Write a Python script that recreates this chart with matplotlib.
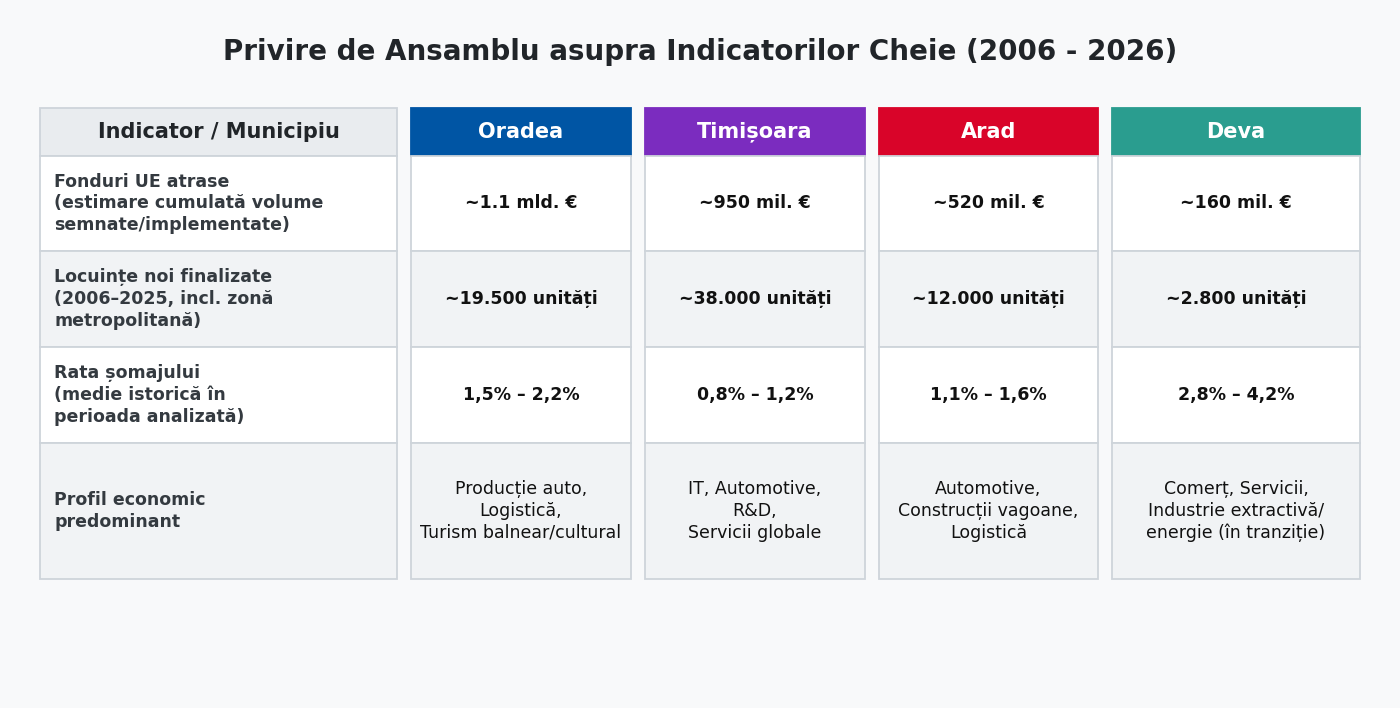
import matplotlib.pyplot as plt
from matplotlib.patches import Rectangle

plt.rcParams['font.family'] = ['DejaVu Sans']

title = "Privire de Ansamblu asupra Indicatorilor Cheie (2006 - 2026)"
corner_label = "Indicator / Municipiu"
cities = ["Oradea", "Timișoara", "Arad", "Deva"]
city_colors = ["#0055A4", "#7B2CBF", "#D90429", "#2A9D8F"]
indicators = [
    "Fonduri UE atrase\n(estimare cumulată volume\nsemnate/implementate)",
    "Locuințe noi finalizate\n(2006–2025, incl. zonă\nmetropolitană)",
    "Rata șomajului\n(medie istorică în\nperioada analizată)",
    "Profil economic\npredominant",
]
eu_funds = ["~1.1 mld. €", "~950 mil. €", "~520 mil. €", "~160 mil. €"]
housing = ["~19.500 unități", "~38.000 unități", "~12.000 unități", "~2.800 unități"]
unemployment = ["1,5% – 2,2%", "0,8% – 1,2%", "1,1% – 1,6%", "2,8% – 4,2%"]
profile = [
    "Producție auto,\nLogistică,\nTurism balnear/cultural",
    "IT, Automotive,\nR&D,\nServicii globale",
    "Automotive,\nConstrucții vagoane,\nLogistică",
    "Comerț, Servicii,\nIndustrie extractivă/\nenergie (în tranziție)",
]
values = [eu_funds, housing, unemployment, profile]

# layout in pixels
col_x = [(40, 397), (411, 631), (645, 865), (879, 1098), (1112, 1360)]
row_y = [(108, 156), (156, 251), (251, 347), (347, 443), (443, 579)]
row_fill = ["#FFFFFF", "#F1F3F5", "#FFFFFF", "#F1F3F5"]
border = "#CED4DA"

fig = plt.figure(figsize=(14, 7.08), dpi=100)
fig.patch.set_facecolor("#F8F9FA")
ax = fig.add_axes([0, 0, 1, 1])
ax.set_xlim(0, 1400)
ax.set_ylim(708, 0)
ax.axis("off")

ax.text(700, 52, title, ha="center", va="center", fontsize=20, fontweight="bold", color="#212529")


def cell(c, r, face, edge=border):
    x0, x1 = col_x[c]
    y0, y1 = row_y[r]
    ax.add_patch(Rectangle((x0, y0), x1 - x0, y1 - y0, facecolor=face, edgecolor=edge, linewidth=1.3))
    return (x0 + x1) / 2, (y0 + y1) / 2


# header
cx, cy = cell(0, 0, "#E9ECEF")
ax.text(cx, cy, corner_label, ha="center", va="center", fontsize=15, fontweight="bold", color="#212529")
for i, city in enumerate(cities):
    cx, cy = cell(i + 1, 0, city_colors[i], edge=city_colors[i])
    ax.text(cx, cy, city, ha="center", va="center", fontsize=15, fontweight="bold", color="white")

# body
for r, label in enumerate(indicators):
    cx, cy = cell(0, r + 1, row_fill[r])
    ax.text(col_x[0][0] + 14, cy, label, ha="left", va="center", fontsize=12.5,
            fontweight="bold", color="#343A40", linespacing=1.27)
    for c in range(4):
        cx, cy = cell(c + 1, r + 1, row_fill[r])
        last = r == len(indicators) - 1
        ax.text(cx, cy, values[r][c], ha="center", va="center", fontsize=12.5,
                fontweight="normal" if last else "bold", color="#111111",
                linespacing=1.27, multialignment="center")

fig.savefig("out.png", dpi=100, facecolor=fig.get_facecolor())
